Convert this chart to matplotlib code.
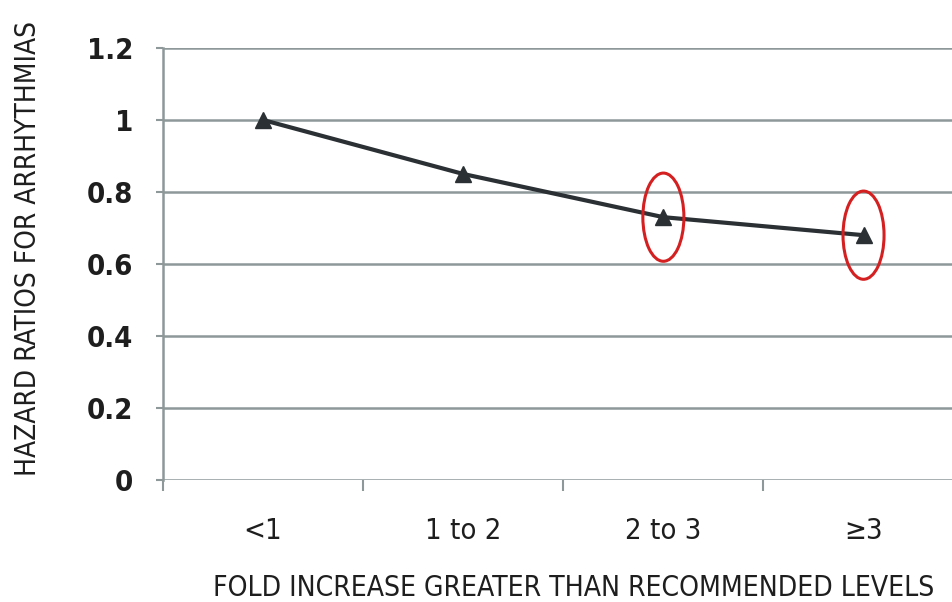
import matplotlib
matplotlib.use('Agg')
import matplotlib.pyplot as plt
from matplotlib.patches import Ellipse
import numpy as np

# === DATOS ===
categorias = ["<1", "1 to 2", "2 to 3", "\u22653"]
hazard_ratios = [1.0, 0.85, 0.73, 0.68]
y_ticks = [0, 0.2, 0.4, 0.6, 0.8, 1.0, 1.2]
y_tick_labels = ["0", "0.2", "0.4", "0.6", "0.8", "1", "1.2"]
resaltados = [2, 3]  # categorias marcadas con elipse roja

plt.rcParams['font.family'] = ['DejaVu Sans']
plt.rcParams['font.stretch'] = 'condensed'

GRIS = '#8e9899'
LINEA = '#2a3034'
TEXTO = '#1e1e1e'

fig = plt.figure(figsize=(9.52, 6.02), dpi=100)
ax = fig.add_axes([0.1712, 0.2027, 0.841, 0.7176])

x = np.arange(len(categorias))
ax.plot(x, hazard_ratios, color=LINEA, linewidth=3, marker='^', markersize=12,
        markerfacecolor=LINEA, markeredgecolor=LINEA, zorder=3)

# elipses rojas sobre los puntos destacados
for i in resaltados:
    e = Ellipse((x[i], hazard_ratios[i]), width=0.205, height=0.245, fill=False,
                edgecolor='#d42020', linewidth=2.2, zorder=4)
    ax.add_patch(e)

ax.set_xlim(-0.5, 3.5)
ax.set_ylim(0, 1.2)

ax.set_yticks(y_ticks)
ax.set_yticklabels(y_tick_labels, fontsize=21, fontweight='bold', color=TEXTO)
ax.tick_params(axis='y', length=5, width=1.5, color=GRIS, pad=16.5)

ax.set_xticks(x)
ax.set_xticklabels(categorias, fontsize=21, color=TEXTO)
ax.tick_params(axis='x', which='major', length=0, pad=27)
ax.set_xticks(np.arange(-0.5, 3.6, 1.0), minor=True)
ax.tick_params(axis='x', which='minor', length=8, width=1.5, color=GRIS)

ax.grid(axis='y', color=GRIS, linewidth=1.8)
ax.set_axisbelow(True)
for s in ['top', 'right', 'bottom']:
    ax.spines[s].set_visible(False)
ax.spines['left'].set_color(GRIS)
ax.spines['left'].set_linewidth(1.8)
ax.spines['left'].set_bounds(0, 1.2)

# titulos de ejes ajustados a un ancho en pixeles
def texto_ajustado(xp, yp, s, largo, rot=0):
    t = fig.text(xp / 952, 1 - yp / 602, s, fontsize=20, color=TEXTO,
                 rotation=rot, ha='center', va='center')
    r = fig.canvas.get_renderer()
    bb = t.get_window_extent(r)
    actual = bb.height if rot else bb.width
    t.set_fontsize(20 * largo / actual)
    return t

texto_ajustado(28, 248, "HAZARD RATIOS FOR ARRHYTHMIAS", 455, rot=90)
texto_ajustado(574, 588, "FOLD INCREASE GREATER THAN RECOMMENDED LEVELS", 722)

fig.savefig("out.png", dpi=100, facecolor='white')
